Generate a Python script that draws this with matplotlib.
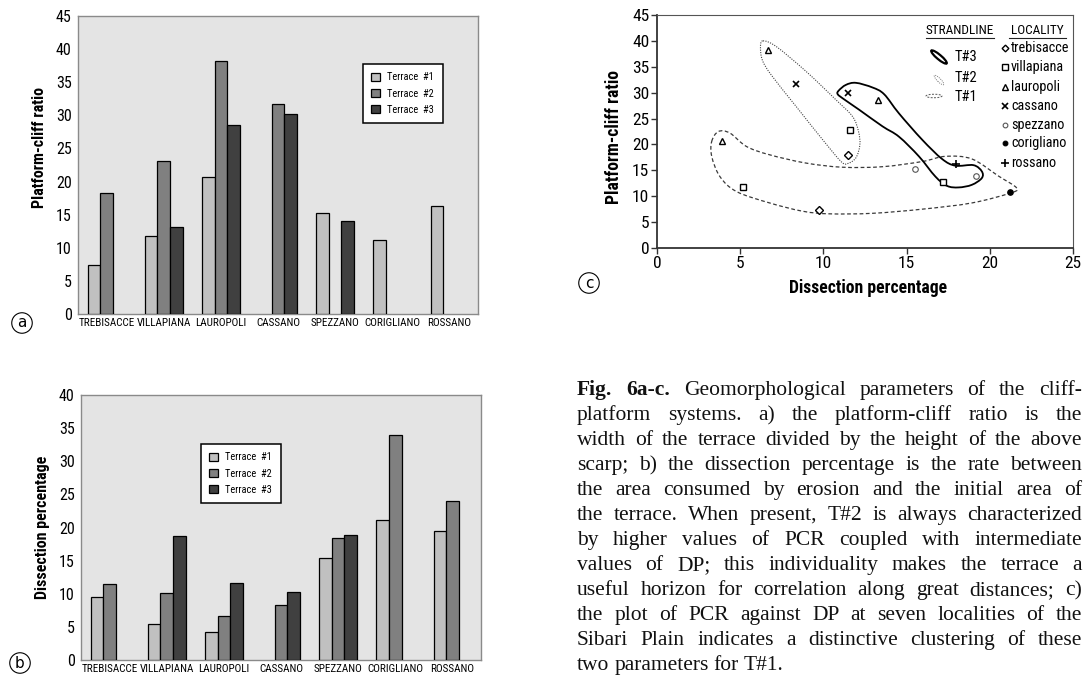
import numpy as np
import matplotlib
matplotlib.use('Agg')
import matplotlib.pyplot as plt
from matplotlib import font_manager as fm
from matplotlib.path import Path
from matplotlib.patches import PathPatch, Ellipse
from matplotlib.transforms import IdentityTransform
from matplotlib.lines import Line2D

W, H = 1083, 676
nan = np.nan

# ---------------- data ----------------
localities = ['TREBISACCE', 'VILLAPIANA', 'LAUROPOLI', 'CASSANO', 'SPEZZANO', 'CORIGLIANO', 'ROSSANO']
terrace_labels = ['Terrace  #1', 'Terrace  #2', 'Terrace  #3']

pcr_t1 = [7.4, 11.8, 20.7, nan, 15.3, 11.1, 16.3]
pcr_t2 = [18.2, 23.1, 38.2, 31.7, nan, nan, nan]
pcr_t3 = [nan, 13.1, 28.6, 30.2, 14.1, nan, nan]

dp_t1 = [9.5, 5.5, 4.3, nan, 15.4, 21.2, 19.4]
dp_t2 = [11.4, 10.1, 6.6, 8.35, 18.4, 34.0, 24.0]
dp_t3 = [nan, 18.7, 11.6, 10.3, 18.9, nan, nan]

pcr_ticks = [0, 5, 10, 15, 20, 25, 30, 35, 40, 45]
dp_ticks = [0, 5, 10, 15, 20, 25, 30, 35, 40]
c_xticks = [0, 5, 10, 15, 20, 25]

c_names = ['trebisacce', 'villapiana', 'lauropoli', 'cassano', 'spezzano', 'corigliano', 'rossano']
sc_dp = [9.76, 11.45, 5.14, 11.6, 17.17, 3.88, 6.65, 13.27, 8.37, 11.45, 15.5, 19.16, 21.2, 17.97]
sc_pcr = [7.4, 17.9, 11.8, 22.7, 12.8, 20.7, 38.2, 28.5, 31.7, 30.0, 15.3, 14.0, 10.9, 16.3]
sc_loc = [0, 0, 1, 1, 1, 2, 2, 2, 3, 3, 4, 4, 5, 6]

t1_env_dp = [3.29, 3.69, 4.38, 5.38, 6.77, 8.96, 11.16, 13.55, 15.94, 17.33, 18.92, 20.52, 21.61,
             21.22, 18.92, 15.94, 12.95, 10.36, 8.76, 6.77, 4.78, 3.78, 3.29]
t1_env_pcr = [20.6, 22.5, 22.2, 19.6, 18.0, 16.4, 15.6, 15.7, 16.7, 17.7, 17.2, 13.9, 11.6,
              10.6, 8.7, 7.5, 6.7, 6.6, 7.1, 8.7, 10.9, 13.8, 17.7]
t2_env_dp = [6.37, 7.17, 8.96, 10.76, 11.75, 12.11, 12.19, 11.95, 11.45, 11.06, 9.96, 8.37, 6.87, 6.33, 6.22]
t2_env_pcr = [40.0, 38.9, 34.1, 28.6, 25.4, 22.5, 19.9, 17.4, 16.3, 16.7, 20.9, 27.3, 33.4, 36.3, 38.9]
t3_env_dp = [10.92, 11.35, 11.95, 12.95, 13.65, 14.54, 15.94, 17.13, 17.93, 19.02, 19.52, 19.52, 18.92,
             18.13, 17.43, 16.73, 15.74, 14.54, 13.55, 12.15, 11.25, 10.86]
t3_env_pcr = [30.4, 31.5, 31.9, 31.0, 29.7, 26.0, 20.9, 17.2, 15.9, 16.0, 14.8, 13.5, 12.2,
              11.7, 12.0, 13.8, 17.7, 21.5, 23.5, 26.7, 28.7, 29.7]

caption_lines = [
    "Fig. 6a-c. Geomorphological parameters of the cliff-",
    "platform systems. a) the platform-cliff ratio is the",
    "width of the terrace divided by the height of the above",
    "scarp; b) the dissection percentage is the rate between",
    "the area consumed by erosion and the initial area of",
    "the terrace. When present, T#2 is always characterized",
    "by higher values of PCR coupled with intermediate",
    "values of DP; this individuality makes the terrace a",
    "useful horizon for correlation along great distances; c)",
    "the plot of PCR against DP at seven localities of the",
    "Sibari Plain indicates a distinctive clustering of these",
    "two parameters for T#1.",
]

# ---------------- fonts ----------------
avail = {f.name for f in fm.fontManager.ttflist}
pref = ['Roboto Condensed', 'Liberation Sans Narrow', 'Liberation Sans']
COND = [p for p in pref if p in avail] + ['DejaVu Sans']
plt.rcParams['font.family'] = COND
bar_colors = ['#c0c0c0', '#808080', '#404040']

fig = plt.figure(figsize=(W / 100, H / 100), dpi=100)


def rect(l, t, r, b):
    return [l / W, 1 - b / H, (r - l) / W, (b - t) / H]


def fpos(x, y):
    return x / W, 1 - y / H


def bar_panel(ax, series, ymax, ticks, ylabel, leg_anchor, ylab_y):
    x = np.arange(len(localities))
    w = 0.22
    for k, vals in enumerate(series):
        v = np.asarray(vals, float)
        m = ~np.isnan(v)
        ax.bar(x[m] + (k - 1) * w, v[m], w, color=bar_colors[k], edgecolor='black',
               linewidth=0.9, label=terrace_labels[k], zorder=3)
    ax.set_xlim(-0.5, len(localities) - 0.5)
    ax.set_ylim(0, ymax)
    ax.set_yticks(ticks)
    ax.set_yticklabels([str(t) for t in ticks], fontsize=11.5)
    ax.set_xticks(x)
    ax.set_xticklabels(localities, fontsize=8)
    ax.tick_params(axis='both', length=0)
    ax.tick_params(axis='y', pad=4.5)
    ax.tick_params(axis='x', pad=3)
    ax.set_facecolor('#e4e4e4')
    for s in ax.spines.values():
        s.set_color('#8a8a8a')
        s.set_linewidth(1.0)
    ax.set_ylabel(ylabel, fontsize=11.5, fontweight='bold')
    ax.yaxis.set_label_coords(-0.0775, ylab_y)
    leg = ax.legend(loc='upper left', bbox_to_anchor=leg_anchor, fontsize=7.5,
                    handlelength=0.85, handleheight=0.85, handletextpad=0.7,
                    labelspacing=0.6, borderpad=0.8, borderaxespad=0.0,
                    fancybox=False, framealpha=1, edgecolor='black')
    leg.get_frame().set_linewidth(1.1)


axa = fig.add_axes(rect(78, 16, 478, 314))
bar_panel(axa, [pcr_t1, pcr_t2, pcr_t3], 45, pcr_ticks, 'Platform-cliff ratio', (0.7125, 0.839), 0.56)

axb = fig.add_axes(rect(81, 395, 481, 660))
bar_panel(axb, [dp_t1, dp_t2, dp_t3], 40, dp_ticks, 'Dissection percentage', (0.30, 0.815), 0.5)


def closed_smooth_path(xs, ys):
    P = np.column_stack([xs, ys]).astype(float)
    n = len(P)
    verts = [P[0]]
    codes = [Path.MOVETO]
    for i in range(n):
        p0, p1, p2, p3 = P[i - 1], P[i], P[(i + 1) % n], P[(i + 2) % n]
        c1 = p1 + (p2 - p0) / 6.0
        c2 = p2 - (p3 - p1) / 6.0
        verts += [c1, c2, p2]
        codes += [Path.CURVE4] * 3
    return Path(verts, codes)


axc = fig.add_axes(rect(657, 15, 1073, 248))
axc.set_xlim(0, 25)
axc.set_ylim(0, 45)
axc.set_xticks(c_xticks)
axc.set_xticklabels([str(t) for t in c_xticks], fontsize=12.5)
axc.set_yticks(pcr_ticks)
axc.set_yticklabels([str(t) for t in pcr_ticks], fontsize=12.5)
axc.tick_params(direction='out', length=4, width=1.0, color='#333333', pad=1.5)
for s in ['left', 'bottom']:
    axc.spines[s].set_color('#333333')
    axc.spines[s].set_linewidth(1.3)
for s in ['top', 'right']:
    axc.spines[s].set_color('#555555')
    axc.spines[s].set_linewidth(0.8)
axc.set_xlabel('Dissection percentage', fontsize=12.7, fontweight='bold')
axc.set_ylabel('Platform-cliff ratio', fontsize=12.7, fontweight='bold')
axc.yaxis.set_label_coords(-0.081, 0.476)
axc.xaxis.set_label_coords(0.507, -0.133)

axc.add_patch(PathPatch(closed_smooth_path(t1_env_dp, t1_env_pcr), fill=False,
                        edgecolor='#3a3a3a', linewidth=0.9, linestyle=(0, (3.0, 2.0))))
axc.add_patch(PathPatch(closed_smooth_path(t2_env_dp, t2_env_pcr), fill=False,
                        edgecolor='#444444', linewidth=0.8, linestyle=(0, (1.0, 1.2))))
axc.add_patch(PathPatch(closed_smooth_path(t3_env_dp, t3_env_pcr), fill=False,
                        edgecolor='black', linewidth=1.3, linestyle='-'))

marker_styles = [
    dict(marker='D', ms=4.0, mfc='white', mec='black', mew=1.0),
    dict(marker='s', ms=4.5, mfc='white', mec='black', mew=1.0),
    dict(marker='^', ms=4.5, mfc='white', mec='black', mew=1.0),
    dict(marker='x', ms=5.0, mfc='none', mec='black', mew=1.2),
    dict(marker='o', ms=4.0, mfc='white', mec='#555555', mew=0.8),
    dict(marker='o', ms=4.0, mfc='black', mec='black', mew=0.8),
    dict(marker='+', ms=6.0, mfc='none', mec='black', mew=1.2),
]
sc_dp_a = np.array(sc_dp)
sc_pcr_a = np.array(sc_pcr)
sc_loc_a = np.array(sc_loc)
for li, st in enumerate(marker_styles):
    m = sc_loc_a == li
    axc.plot(sc_dp_a[m], sc_pcr_a[m], linestyle='none', zorder=4, **st)

fig.text(*fpos(960, 31), 'STRANDLINE', fontsize=9.5, ha='center', va='center')
fig.text(*fpos(1037, 31), 'LOCALITY', fontsize=9.5, ha='center', va='center')
for (xa, xb) in [(926, 994), (1009, 1066)]:
    fig.add_artist(Line2D([xa / W, xb / W], [1 - 37.5 / H] * 2, transform=fig.transFigure,
                          color='#222222', lw=0.8))
for lab, yy in zip(['T#3', 'T#2', 'T#1'], [57, 78, 97]):
    fig.text(*fpos(955, yy), lab, fontsize=10.5, ha='left', va='center')
fig.add_artist(Ellipse((939, H - 57), 20, 4.5, angle=-40, transform=IdentityTransform(),
                       fill=False, ec='black', lw=1.6))
fig.add_artist(Ellipse((939, H - 80), 13, 3.5, angle=-45, transform=IdentityTransform(),
                       fill=False, ec='#777777', lw=0.7, ls=(0, (1, 1.2))))
fig.add_artist(Ellipse((934, H - 96), 16, 3.5, angle=0, transform=IdentityTransform(),
                       fill=False, ec='#555555', lw=0.7, ls=(0, (2, 1.5))))
loc_y = [48, 67, 87, 106, 125, 143, 163]
for li, (name, yy) in enumerate(zip(c_names, loc_y)):
    st = dict(marker_styles[li])
    st['ms'] = st['ms'] * 0.85
    fig.add_artist(Line2D([1005 / W], [1 - yy / H], transform=fig.transFigure,
                          linestyle='none', **st))
    fig.text(*fpos(1011, yy), name, fontsize=10.3, ha='left', va='center')

for letter, (cx, cy) in zip(['a', 'b', 'c'], [(22, 323), (20, 663), (589, 283)]):
    fig.text(*fpos(cx, cy), letter, fontsize=11, ha='center', va='center',
             family=['DejaVu Sans'],
             bbox=dict(boxstyle='circle,pad=0.18', fc='white', ec='black', lw=0.8))

renderer = fig.canvas.get_renderer()
x0, x1 = 577, 1082
for i, line in enumerate(caption_lines):
    yb = 395 + i * 25.0
    words = line.split()
    texts = []
    for j, wd in enumerate(words):
        bold = (i == 0 and j < 2)
        t = fig.text(0, 1 - yb / H, wd, fontsize=15.5, family=['Liberation Serif', 'DejaVu Serif'],
                     fontweight='bold' if bold else 'normal', va='baseline', ha='left',
                     color='#111111')
        texts.append(t)
    widths = [t.get_window_extent(renderer).width for t in texts]
    if i == len(caption_lines) - 1:
        gap = 5.0
    else:
        gap = (x1 - x0 - sum(widths)) / (len(words) - 1)
    x = x0
    for t, wdt in zip(texts, widths):
        t.set_x(x / W)
        x += wdt + gap

fig.savefig('out.png', dpi=100)
